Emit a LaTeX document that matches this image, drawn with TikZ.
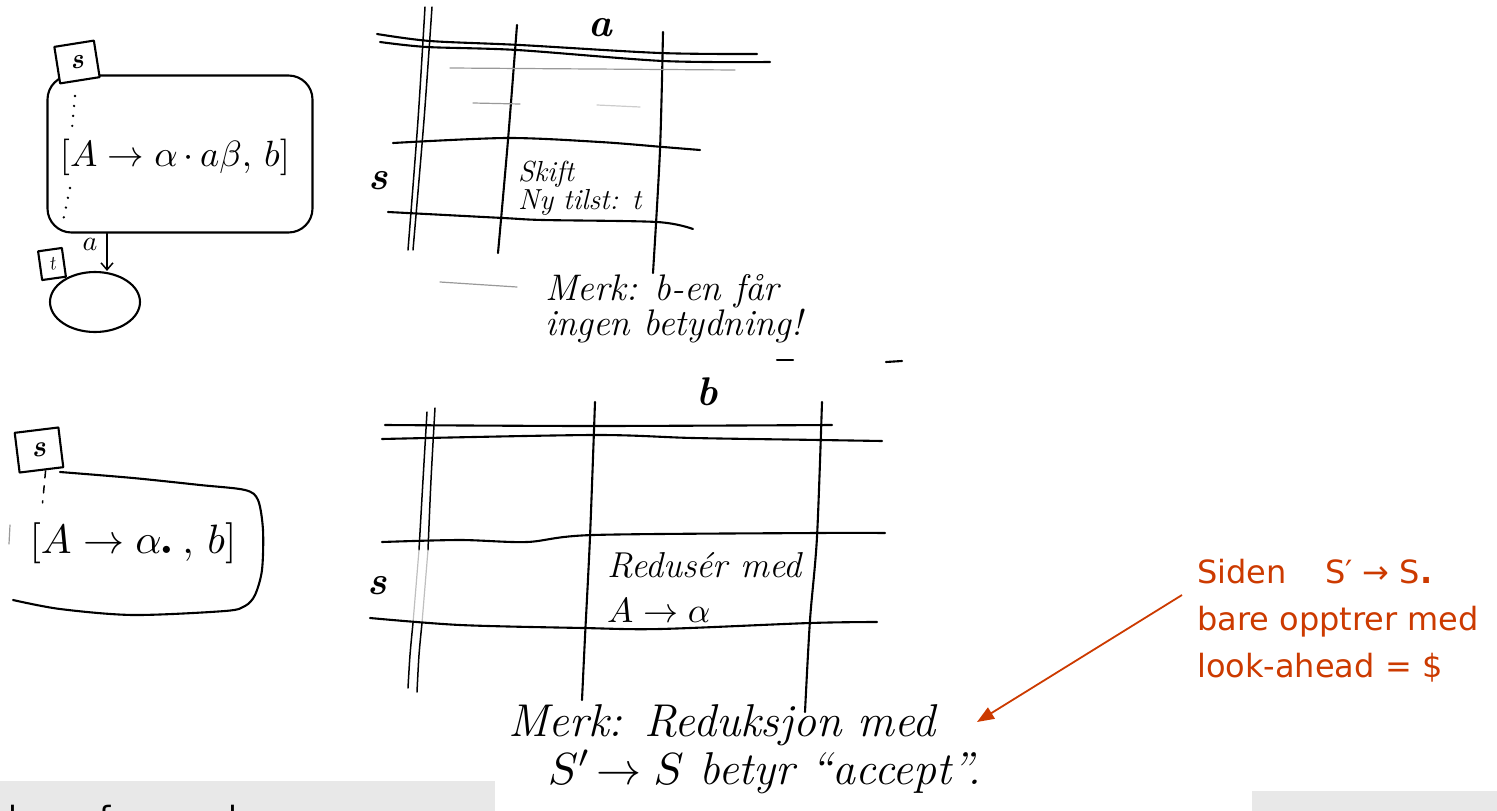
\documentclass[tikz,border=0pt]{standalone}
\usepackage{fontspec}
\usepackage{graphicx}
\newfontfamily\slidefont{DejaVu Sans}
\usetikzlibrary{arrows.meta,shapes.geometric,calc}
\definecolor{notered}{RGB}{204,58,0}
\definecolor{footgray}{RGB}{232,232,232}

\tikzset{
  ink/.style={line width=2.1pt, line cap=round, line join=round},
  thinink/.style={line width=1.5pt, line cap=round, line join=round},
  faint/.style={line width=1.2pt, black!40, line cap=round},
  statebox/.style={draw, ink, rounded corners=24pt},
  tagbox/.style={draw, ink, fill=white, inner sep=0pt},
  dotline/.style={line width=2.6pt, line cap=round, dash pattern=on 0pt off 10pt},
  hand/.style={inner sep=0pt},
  headlabel/.style={inner sep=0pt, font=\bfseries\itshape\fontsize{40}{40}\selectfont},
  redtext/.style={text=notered, inner sep=0pt, align=left,
                  font=\slidefont\fontsize{32}{47}\selectfont},
}
\newcommand{\hs}[1]{\fontsize{#1}{#1}\selectfont}
% formulas set at 10pt and enlarged, since the math fonts do not scale freely
\newcommand{\enlargedmath}[2]{\scalebox{#1}{\fontsize{10}{12}\selectfont$#2$}}

\begin{document}
\begin{tikzpicture}[x=1pt,y=-1pt]
\useasboundingbox (0,0) rectangle (1497,811);

% ---------- state s with a shift item, and its a-successor t ----------
\node[statebox, minimum width=265pt, minimum height=157pt] (I1) at (180,154) {};
\node[tagbox, rotate=9, minimum width=40pt, minimum height=37pt] (s1) at (77,62) {\bfseries\itshape\hs{28}s};
\draw[dotline] (75,96) -- (72,128);
\draw[dotline] (70,188) -- (62,226);
\node[hand] (it1) at (175,157) {\enlargedmath{3.65}{[A\to\alpha\,{\cdot}\,a\beta,\, b]}};
\node[draw, ink, ellipse, minimum width=90pt, minimum height=60pt] (T) at (95,302) {};
\node[tagbox, rotate=8, minimum width=24pt, minimum height=29pt] (t1) at (52,264) {\itshape\hs{20}t};
\draw[thinink, -{Straight Barb[length=7pt,width=12pt]}] ([xshift=-73pt]I1.south) -- ([xshift=12pt]T.north);
\node[hand] (la) at (90,244) {\enlargedmath{2.8}{a}};

% ---------- action table, column a ----------
\draw[thinink] plot[smooth] coordinates {(425,7) (418,120) (408,250)};
\draw[thinink] plot[smooth] coordinates {(432,7) (424,120) (413,250)};
\draw[ink] plot[smooth] coordinates {(517,25) (508,140) (498,253)};
\draw[ink] plot[smooth] coordinates {(663,32) (660,150) (653,273)};
\draw[ink] plot[smooth] coordinates {(377,34) (430,41) (520,45) (660,53) (757,54)};
\draw[ink] plot[smooth] coordinates {(380,42) (427,47) (517,50) (663,61) (770,62)};
\draw[faint] (450,68) -- (735,70);
\draw[faint] (473,103) -- (520,104);
\draw[faint, black!20] (597,105) -- (640,107);
\draw[ink] plot[smooth] coordinates {(393,143) (507,138) (600,142) (663,147) (700,150)};
\draw[ink] plot[smooth] coordinates {(388,212) (503,218) (543,220) (657,222) (693,229)};
\draw[faint] (440,282) -- (517,287);
\node[headlabel] (ha) at (600,28) {a};
\node[headlabel] (hs1) at (378,181) {s};
\node[hand, anchor=north west, align=left, font=\itshape\fontsize{29}{28}\selectfont] (shift) at (518,161)
  {Skift\\Ny tilst: t};
\node[hand, anchor=north west, align=left, font=\itshape\fontsize{37}{32}\selectfont] (note1) at (545,274)
  {Merk: b-en får\\ingen betydning!};
\draw[ink] (777,360) -- (793,360);
\draw[ink] (886,362) -- (902,361);

% ---------- state s with a complete item ----------
\draw[ink] plot[smooth] coordinates {(60,472) (133,478) (200,485) (245,490) (258,500) (263,530)
  (262,570) (255,595) (245,606) (225,611) (133,615) (60,609) (13,600)};
\draw[faint] (10,525) -- (9,544);
\node[tagbox, rotate=7, minimum width=44pt, minimum height=40pt] (s2) at (39,450) {\bfseries\itshape\hs{30}s};
\draw[thinink, dash pattern=on 7pt off 8pt] ([xshift=4pt]s2.south) -- ++(-3,32);
\node[hand] (it2) at (133,543) {\enlargedmath{4.1}{[A\to\alpha\raisebox{-0.02em}{\scalebox{.45}{$\bullet$}}\;,\, b]}};

% ---------- action table, column b ----------
\draw[thinink] plot[smooth] coordinates {(427,412) (423,480) (419,550)};
\draw[thinink] plot[smooth] coordinates {(435,408) (431,480) (428,550)};
\draw[faint, black!25] (419,550) -- (413,623);
\draw[faint, black!25] (428,550) -- (422,623);
\draw[thinink] plot[smooth] coordinates {(413,623) (410,655) (408,688)};
\draw[thinink] plot[smooth] coordinates {(422,623) (419,655) (417,692)};
\draw[ink] plot[smooth] coordinates {(595,402) (590,537) (585,637) (582,700)};
\draw[ink] plot[smooth] coordinates {(822,402) (817,537) (810,620) (805,712)};
\draw[ink] plot[smooth] coordinates {(385,425) (593,426) (832,425)};
\draw[ink] plot[smooth] coordinates {(382,439) (593,435) (693,438) (820,440) (882,441)};
\draw[ink] plot[smooth] coordinates {(382,542) (460,540) (527,542) (593,535) (817,533) (885,533)};
\draw[ink] plot[smooth] coordinates {(370,618) (460,625) (583,628) (660,629) (810,623) (877,622)};
\node[headlabel] (hb) at (707,392) {b};
\node[headlabel] (hs2) at (377,586) {s};
\node[hand, anchor=north west, align=left, font=\itshape\fontsize{36}{45}\selectfont] (reduce) at (607,552)
  {Redusér med\\\enlargedmath{3.5}{A\to\alpha}};
\node[hand, anchor=north west, align=left, font=\itshape\fontsize{46}{48}\selectfont] (note2) at (508,704)
  {Merk: Reduksjon med\\\hspace*{40pt}\enlargedmath{4.5}{S'\!\to S} betyr ``accept''.};

% ---------- remark on the accepting reduction ----------
\node[redtext, anchor=north west] (why) at (1197,559)
  {Siden\hspace{1.2em}S′ → S\textbf{.}\\bare opptrer med\\look-ahead = \$};
\coordinate (tip) at (977,722);
\draw[notered, line width=1.8pt, -{Triangle[length=17pt,width=13pt]}]
  ([shift={(-15pt,-36pt)}]why.north west) -- (tip);

% ---------- footer bars ----------
\fill[footgray] (0,781) rectangle (495,811);
\fill[footgray] (1252,791) rectangle (1497,811);
\begin{scope}
  \clip (0,781) rectangle (495,811);
  \node[anchor=base west, inner sep=0pt, font=\slidefont\fontsize{32}{32}\selectfont] (foot) at (8,829)
    {leses for mer lære};
\end{scope}
\end{tikzpicture}
\end{document}
